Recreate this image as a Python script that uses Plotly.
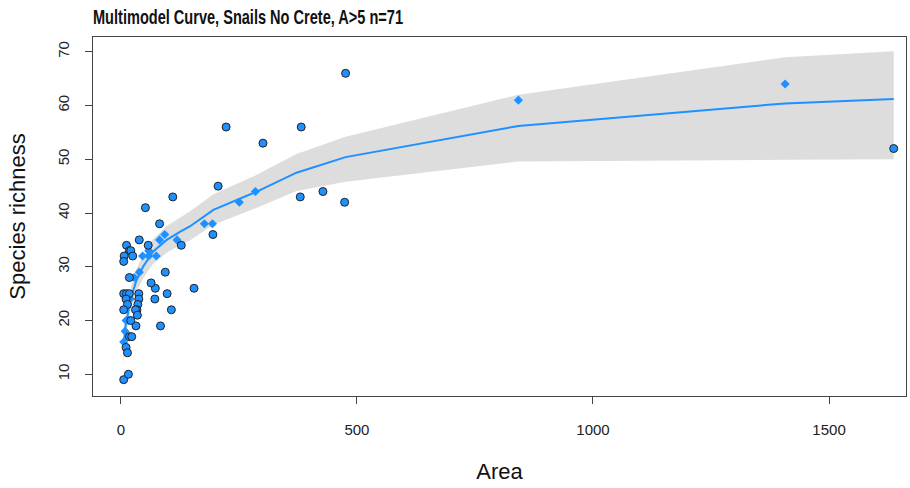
import numpy as np
import plotly.graph_objects as go

# Observed islands: area and snail species richness (A > 5, n = 71)
area = [1637, 1407, 842, 476, 474, 428, 380, 382, 301, 223,
        206, 285, 251, 194, 195, 177, 155, 128, 119, 110,
        107, 98, 94, 93, 84, 82, 82, 75, 73, 72,
        64, 58, 59, 59, 52, 46, 39, 39, 38, 38,
        36, 34, 31, 35, 32, 28, 18, 12, 18, 21,
        25, 7, 6, 6, 12, 18, 11, 20, 14, 6,
        11, 16, 21, 9, 18, 23, 6, 11, 14, 6, 16]
richness = [52, 64, 61, 66, 42, 44, 43, 56, 53, 56,
            45, 44, 42, 38, 36, 38, 26, 34, 35, 43,
            22, 25, 29, 36, 19, 38, 35, 32, 26, 24,
            27, 34, 33, 32, 41, 32, 35, 29, 25, 24,
            23, 22, 22, 21, 19, 28, 28, 34, 33, 33,
            32, 32, 31, 25, 25, 25, 24, 24, 23, 22,
            20, 20, 20, 18, 17, 17, 16, 15, 14, 9, 10]

# Multimodel averaged curve with its confidence band
fit_area = [5.5, 10, 15, 22, 33, 47, 68, 97, 125, 146, 196, 250, 288, 372,
            476, 842, 1407, 1637]
fit_rich = [15.0, 19.0, 21.3, 24.4, 27.5, 30.0, 32.8, 35.0, 36.5, 37.5, 40.6,
            42.6, 44.0, 47.5, 50.4, 56.2, 60.4, 61.2]
fit_lower = [11.5, 16.8, 19.3, 22.4, 25.4, 27.8, 30.5, 32.6, 34.0, 34.9, 37.8,
             39.7, 41.0, 44.1, 45.8, 49.6, 49.9, 50.0]
fit_upper = [18.5, 21.2, 23.3, 26.4, 29.6, 32.2, 35.1, 37.6, 39.1, 40.3, 43.5,
             45.6, 47.1, 51.0, 54.2, 62.0, 69.0, 70.1]

x_ticks = [0, 500, 1000, 1500]
y_ticks = [10, 20, 30, 40, 50, 60, 70]

BLUE = "#1E90FF"
BAND = "#DDDDDD"

a = np.array(area, dtype=float)
s = np.array(richness, dtype=float)
lo = np.interp(a, fit_area, fit_lower)
hi = np.interp(a, fit_area, fit_upper)
# points lying within the band (and not at its open end) are drawn as diamonds
inside = (s >= lo) & (s <= hi) & (a < max(fit_area))

fig = go.Figure()

# confidence band polygon
fig.add_trace(go.Scatter(
    x=fit_area + fit_area[::-1],
    y=fit_upper + fit_lower[::-1],
    fill="toself", fillcolor=BAND, mode="lines",
    line=dict(width=0, color=BAND), hoverinfo="skip", showlegend=False,
))

# points covered by the band
fig.add_trace(go.Scatter(
    x=a[inside], y=s[inside], mode="markers",
    marker=dict(symbol="diamond", size=7, color=BLUE, line=dict(width=0)),
    showlegend=False,
))

# fitted curve
fig.add_trace(go.Scatter(
    x=fit_area, y=fit_rich, mode="lines",
    line=dict(color=BLUE, width=2), showlegend=False,
))

# points outside the band
fig.add_trace(go.Scatter(
    x=a[~inside], y=s[~inside], mode="markers",
    marker=dict(symbol="circle", size=8, color=BLUE,
                line=dict(width=1, color="#222222")),
    showlegend=False,
))

axis_font = dict(family="Liberation Sans, Arial, sans-serif", size=15, color="#222222")
label_font = dict(family="Liberation Sans, Arial, sans-serif", size=22, color="#111111")

fig.update_layout(
    width=910, height=488,
    margin=dict(l=93, r=4, t=37, b=92),
    paper_bgcolor="white", plot_bgcolor="white",
    title=dict(
        text="Multimodel Curve, Snails No Crete, A>5 n=71",
        font=dict(family="Liberation Sans, Arial, sans-serif",
                  size=21, color="#111111", weight="bold"),
        x=93 / 910, xref="container", xanchor="left",
        y=1 - 17 / 488, yref="container", yanchor="middle",
    ),
    xaxis=dict(
        range=[-59, 1663], tickvals=x_ticks, ticktext=[str(v) for v in x_ticks],
        showgrid=False, zeroline=False, showline=True, mirror=True,
        linecolor="#444444", linewidth=1,
        ticks="outside", ticklen=7, tickcolor="#444444", ticklabelstandoff=13,
        tickfont=axis_font,
        title=dict(text="Area", standoff=26, font=label_font),
    ),
    yaxis=dict(
        range=[5.96, 72.75], tickvals=y_ticks, ticktext=[str(v) for v in y_ticks],
        tickangle=-90,
        showgrid=False, zeroline=False, showline=True, mirror=True,
        linecolor="#444444", linewidth=1,
        ticks="outside", ticklen=7, tickcolor="#444444", ticklabelstandoff=10,
        tickfont=axis_font,
        title=dict(text="Species richness", standoff=23, font=label_font),
    ),
)

# condensed bold title, as in the R graphics device
condense_title = """
var t = document.querySelector('.gtitle');
if (t) { t.setAttribute('textLength', '310'); t.setAttribute('lengthAdjust', 'spacingAndGlyphs'); }
"""

fig.write_html("out.html", post_script=condense_title)
